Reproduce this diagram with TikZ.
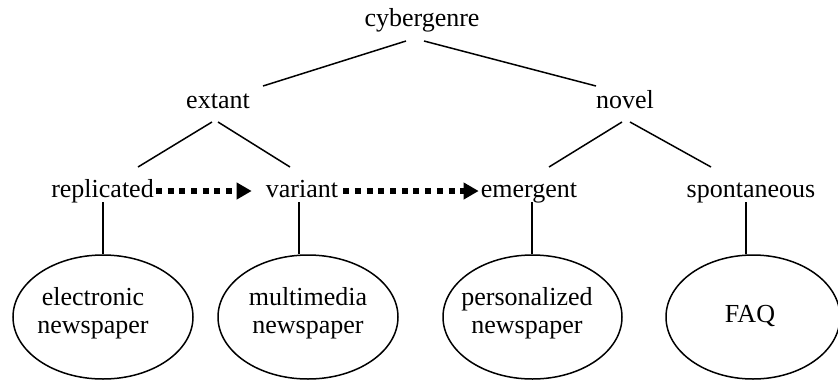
\documentclass[tikz,border=0pt]{standalone}
\usepackage{fontspec}
\setmainfont{Liberation Serif}
\newfontfamily\tnr{Liberation Serif}
\usetikzlibrary{shapes.geometric,arrows.meta,calc}
\begin{document}
\begin{tikzpicture}[x=1pt,y=-1pt,
  lbl/.style={inner sep=0pt,anchor=base,font=\tnr\fontsize{26}{28}\selectfont},
  blk/.style={inner sep=0pt,anchor=center,align=center,font=\tnr\fontsize{26}{28}\selectfont},
  oval/.style={draw,ellipse,line width=1.5pt,inner sep=0pt,minimum width=180pt,minimum height=124pt},
  edge/.style={line width=1.5pt},
  dotarrow/.style={line width=6pt,dash pattern=on 6pt off 5.7pt,-{Triangle[length=15pt,width=16pt]}}]
\useasboundingbox (0,0) rectangle (838,381);
% tree labels
\node[lbl] (cyber) at (422,26) {cybergenre};
\node[lbl] (extant) at (218,108) {extant};
\node[lbl] (novel) at (625,108) {novel};
\node[lbl] (repl) at (102.5,197) {replicated};
\node[lbl] (var) at (302,197) {variant};
\node[lbl] (emerg) at (529,197) {emergent};
\node[lbl] (spont) at (751,197) {spontaneous};
% ellipses
\node[oval] (e1) at (103,317) {};
\node[oval] (e2) at (308,317) {};
\node[oval,minimum width=179pt] (e3) at (532.5,317) {};
\node[oval,minimum width=174pt] (e4) at (753,317) {};
\node[blk] (t1) at (93,313) {electronic\\newspaper};
\node[blk] (t2) at (308,313) {multimedia\\newspaper};
\node[blk] (t3) at (527,313) {personalized\\newspaper};
\node[lbl] (t4) at (750,322) {FAQ};
% tree edges
\draw[edge] ([xshift=-16pt,yshift=-15pt]cyber.base) -- ([xshift=45pt,yshift=22pt]extant.base);
\draw[edge] ([xshift=2pt,yshift=-15pt]cyber.base) -- ([xshift=-29pt,yshift=22pt]novel.base);
\draw[edge] ([xshift=-6pt,yshift=-14pt]extant.base) -- ([xshift=35.5pt,yshift=30pt]repl.base);
\draw[edge] ([yshift=-14pt]extant.base) -- ([xshift=-12pt,yshift=30pt]var.base);
\draw[edge] ([xshift=-3pt,yshift=-14pt]novel.base) -- ([xshift=20pt,yshift=30pt]emerg.base);
\draw[edge] ([xshift=5pt,yshift=-14pt]novel.base) -- ([xshift=-40pt,yshift=30pt]spont.base);
% verticals
\coordinate (v1) at ([xshift=0.5pt,yshift=-5pt]repl.base);
\coordinate (v2) at ([xshift=-3pt,yshift=-5pt]var.base);
\coordinate (v3) at ([xshift=3pt,yshift=-5pt]emerg.base);
\coordinate (v4) at ([xshift=-5pt,yshift=-5pt]spont.base);
\draw[edge] (v1) -- (v1 |- e1.north);
\draw[edge] (v2) -- (v2 |- e2.north);
\draw[edge] (v3) -- (v3 |- e3.north);
\draw[edge] (v4) -- (v4 |- e4.north);
% dotted arrows
\draw[dotarrow] ([xshift=2pt,yshift=6pt]repl.base east) -- ([xshift=-14pt,yshift=6pt]var.base west);
\draw[dotarrow] ([xshift=5pt,yshift=6pt]var.base east) -- ([xshift=-2pt,yshift=6pt]emerg.base west);
\end{tikzpicture}
\end{document}
